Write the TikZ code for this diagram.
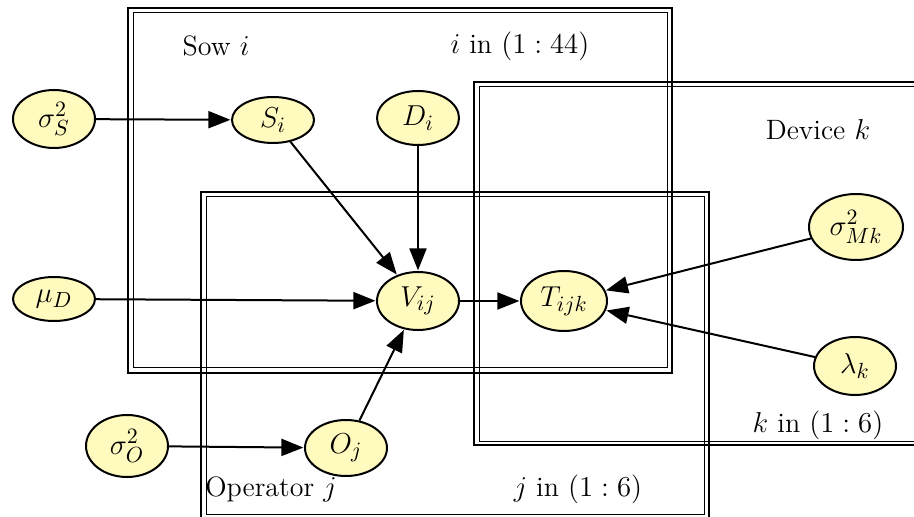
\documentclass[tikz,border=0pt]{standalone}
\usepackage{tikz}
\usetikzlibrary{shapes.geometric,arrows.meta}
\definecolor{nodefill}{RGB}{255,250,190}
\tikzset{
  var/.style={ellipse, draw=black, line width=1pt, fill=nodefill, inner sep=0pt,
    minimum width=41pt, minimum height=27pt, font=\fontsize{15}{17}\selectfont},
  edge/.style={line width=1pt, -{Triangle[length=11pt,width=8.5pt]}, shorten >=0.3pt},
  plateout/.style={draw=black, line width=1.1pt},
  platein/.style={draw=black, line width=0.5pt},
  lab/.style={inner sep=0pt, font=\fontsize{14}{16}\selectfont}
}
\begin{document}
\begin{tikzpicture}[x=0.5pt,y=-0.5pt]
\clip (0,0) rectangle (914,517);
\fill[white] (0,0) rectangle (914,517);
% Sow plate
\draw[plateout] (128,8) rectangle (672,373);
\draw[platein] (133,13) rectangle (667,368);
% Operator plate
\draw[plateout] (201,192) rectangle (709,519);
\draw[platein] (206,197) rectangle (704,514);
% Device plate
\draw[plateout] (474,82) rectangle (930,445);
\draw[platein] (479,87) rectangle (930,441);
% labels
\node[lab] (sowlab) at (216,46) {Sow $i$};
\node[lab] (ilab) at (520,46) {$i$ in $(1:44)$};
\node[lab] (devlab) at (818,130) {Device $k$};
\node[lab] (klab) at (818,425) {$k$ in $(1:6)$};
\node[lab] (jlab) at (578,489) {$j$ in $(1:6)$};
\node[lab] (oplab) at (271,489) {Operator $j$};
% nodes
\node[var, minimum height=29pt] (sS) at (54,119) {$\sigma_S^2$};
\node[var, minimum height=23pt] (S) at (273,120) {$S_i$};
\node[var] (D) at (418,118) {$D_i$};
\node[var, minimum height=22pt] (mu) at (54,299) {$\mu_D$};
\node[var, minimum height=29pt] (V) at (418,301) {$V_{ij}$};
\node[var, minimum width=43pt, minimum height=30pt] (T) at (564,301) {$T_{ijk}$};
\node[var, minimum width=47pt, minimum height=33pt] (sM) at (856,227) {$\sigma_{Mk}^2$};
\node[var, minimum height=29pt] (lam) at (855,366) {$\lambda_k$};
\node[var, minimum height=31pt] (sO) at (127,446) {$\sigma_O^2$};
\node[var, minimum height=28pt] (O) at (346,448) {$O_j$};
% edges
\draw[edge] (sS) -- (S);
\draw[edge] (S) -- (V);
\draw[edge] (D) -- (V);
\draw[edge] (mu) -- (V);
\draw[edge] (O) -- (V);
\draw[edge] (sO) -- (O);
\draw[edge] (V) -- (T);
\draw[edge] (sM) -- (T);
\draw[edge] (lam) -- (T);
\end{tikzpicture}
\end{document}
